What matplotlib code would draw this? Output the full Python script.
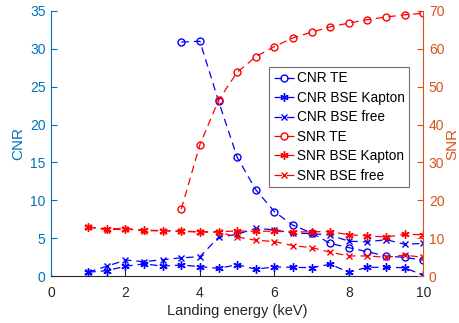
import matplotlib
matplotlib.use("Agg")
import matplotlib.pyplot as plt
import numpy as np

plt.rcParams['font.family'] = ['Liberation Sans', 'DejaVu Sans']

energy = [1, 1.5, 2, 2.5, 3, 3.5, 4, 4.5, 5, 5.5, 6, 6.5, 7, 7.5, 8, 8.5, 9, 9.5, 10]
energy_te = [3.5, 4, 4.5, 5, 5.5, 6, 6.5, 7, 7.5, 8, 8.5, 9, 9.5, 10]

cnr_te = [30.9, 31.0, 23.1, 15.7, 11.4, 8.5, 6.7, 5.7, 4.3, 3.75, 3.2, 2.65, 2.45, 2.1]
cnr_kapton = [0.5, 0.7, 1.3, 1.6, 1.3, 1.45, 1.25, 1.0, 1.5, 0.9, 1.2, 1.15, 1.1, 1.55, 0.5, 1.15, 1.15, 1.1, 0.1]
cnr_free = [0.5, 1.3, 2.1, 1.9, 2.15, 2.4, 2.55, 5.1, 5.5, 6.3, 6.1, 5.65, 5.6, 5.4, 4.6, 4.5, 4.8, 4.2, 4.3]

snr_te = [17.7, 34.7, 46.4, 53.8, 57.9, 60.6, 62.9, 64.4, 65.8, 66.8, 67.7, 68.4, 69.0, 69.4]
snr_kapton = [12.9, 12.5, 12.5, 12.1, 12.0, 11.85, 11.7, 11.7, 11.9, 11.8, 11.85, 11.6, 11.7, 11.7, 10.9, 10.6, 10.3, 11.0, 10.9]
snr_free = [12.9, 12.2, 12.4, 12.0, 11.9, 11.8, 11.6, 11.6, 10.3, 9.45, 9.1, 8.0, 7.5, 6.3, 5.3, 5.3, 4.95, 5.5, 4.95]

left_color = '#0072BD'
right_color = '#D95319'
gray = '#262626'

fig = plt.figure(figsize=(4.6, 3.23), dpi=100)
ax = fig.add_axes([0.111, 0.1455, 0.809, 0.8205])
ax2 = ax.twinx()

dash = (0, (6, 4))
lw = 0.9
ms = 5
ast = (6, 2, 0)
h1, = ax.plot(energy_te, cnr_te, color='b', linestyle=dash, marker='o', mfc='none', ms=ms, lw=lw, label='CNR TE')
h2, = ax.plot(energy, cnr_kapton, color='b', linestyle=dash, marker=ast, ms=ms + 1, mew=1.0, lw=lw, label='CNR BSE Kapton')
h3, = ax.plot(energy, cnr_free, color='b', linestyle=dash, marker='x', ms=ms - 1, lw=lw, label='CNR BSE free')
h4, = ax2.plot(energy_te, snr_te, color='r', linestyle=dash, marker='o', mfc='none', ms=ms, lw=lw, label='SNR TE')
h5, = ax2.plot(energy, snr_kapton, color='r', linestyle=dash, marker=ast, ms=ms + 1, mew=1.0, lw=lw, label='SNR BSE Kapton')
h6, = ax2.plot(energy, snr_free, color='r', linestyle=dash, marker='x', ms=ms - 1, lw=lw, label='SNR BSE free')

ax.set_xlim(0, 10)
ax.set_ylim(0, 35)
ax2.set_ylim(0, 70)
ax.set_xticks([0, 2, 4, 6, 8, 10])
ax.set_yticks(range(0, 36, 5))
ax2.set_yticks(range(0, 71, 10))

for a in (ax, ax2):
    a.spines['top'].set_visible(False)
ax.spines['right'].set_visible(False)
ax2.spines['left'].set_visible(False)
ax2.spines['bottom'].set_visible(False)
ax.spines['left'].set_color(left_color)
ax2.spines['right'].set_color(right_color)
ax.spines['bottom'].set_color(gray)

ax.tick_params(axis='y', direction='in', colors=left_color, labelsize=10, length=4, pad=4)
ax.tick_params(axis='x', direction='in', colors=gray, labelsize=10, length=4, pad=7)
ax2.tick_params(axis='y', direction='in', colors=right_color, labelsize=10, length=4, pad=4)

ax.set_ylabel('CNR', color=left_color, fontsize=11, labelpad=3)
ax2.set_ylabel('SNR', color=right_color, fontsize=11, labelpad=1)
ax.set_xlabel('Landing energy (keV)', color=gray, fontsize=10.5, labelpad=3)

leg = ax2.legend(handles=[h1, h2, h3, h4, h5, h6], loc='upper left',
                 bbox_to_anchor=(0.585, 0.79), fontsize=9.8, frameon=True,
                 fancybox=False, framealpha=1, edgecolor='#707070',
                 handlelength=1.6, handletextpad=0.1, labelspacing=0.4,
                 borderpad=0.35, borderaxespad=0)
leg.get_frame().set_linewidth(0.8)

fig.savefig('out.png', dpi=100)
